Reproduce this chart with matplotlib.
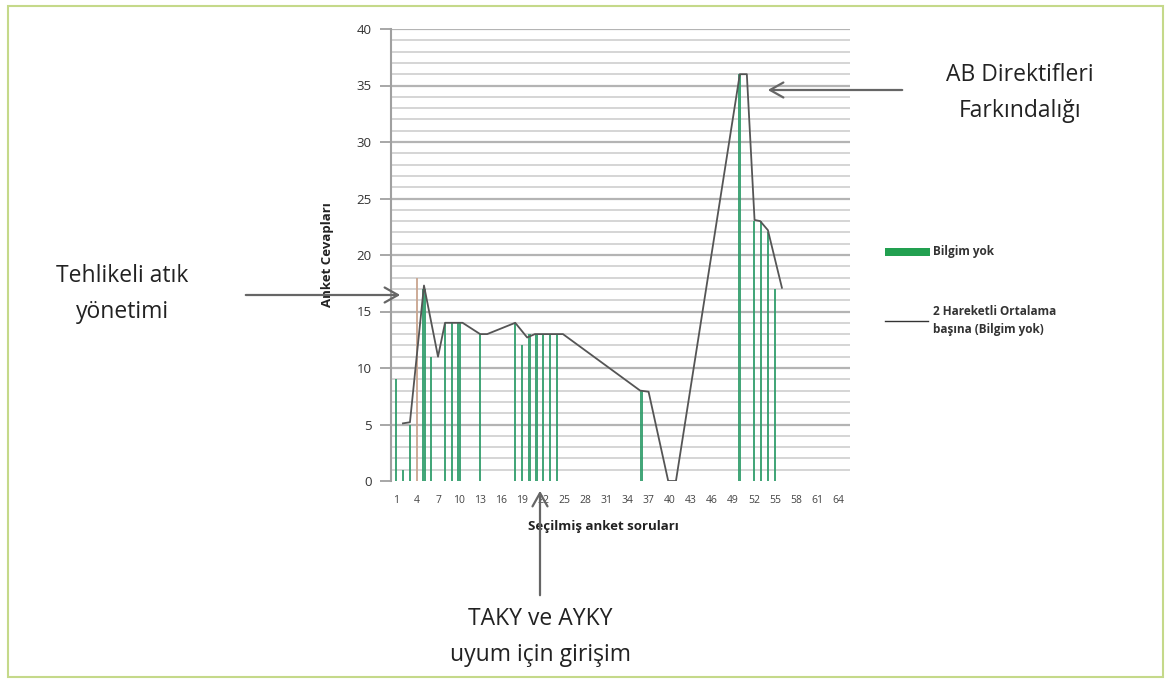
import matplotlib
matplotlib.use("Agg")
import matplotlib.pyplot as plt
from matplotlib.patches import FancyArrowPatch, Rectangle
from matplotlib.lines import Line2D

plt.rcParams['font.family'] = ['Open Sans', 'DejaVu Sans']

# Bars: "Bilgim yok"
bar_x = [1, 2, 3, 4, 5, 6, 8, 9, 10, 13, 18, 19, 20, 21, 22, 23, 24, 36, 50, 52, 53, 54, 55]
bar_y = [9, 1, 5, 18, 17, 11, 14, 14, 14, 13, 14, 12, 13, 13, 13, 13, 13, 8, 36, 23, 23, 22, 17]
bar_w = [0.4, 0.25, 0.25, 0.2, 0.45, 0.35, 0.3, 0.3, 0.45, 0.3, 0.3, 0.3, 0.45, 0.45, 0.3, 0.3, 0.3, 0.35, 0.45, 0.3, 0.3, 0.3, 0.35]
bar_colors = ['#2f9d6b'] * len(bar_x)
bar_colors[3] = '#c9a48e'

# 2-period moving average line
ma_x = [2, 3, 5, 7, 8, 10.5, 13, 14, 18, 19.7, 20.8, 24.8, 35.8, 37, 39.8, 40.9, 50, 51, 52.1, 52.9, 54, 56]
ma_y = [5.1, 5.2, 17.3, 11, 14, 14, 13, 13, 14, 12.7, 13, 13, 8, 7.9, 0, 0, 36, 36, 23.1, 23, 22.2, 17.1]

xticks = list(range(1, 65, 3))
yticks = list(range(0, 41, 5))

legend_labels = ['Bilgim yok', '2 Hareketli Ortalama\nbaşına (Bilgim yok)']

W, H = 1171, 683
fig = plt.figure(figsize=(W / 100, H / 100), dpi=100)
fig.patch.set_facecolor('white')

def fx(px):
    return px / W

def fy(py):
    return 1 - py / H

ax = fig.add_axes([fx(391), fy(481), fx(850) - fx(391), fy(29) - fy(481)])
ax.set_xlim(0.3, 65.7)
ax.set_ylim(0, 40)

# gridlines
for v in range(1, 41):
    major = (v % 5 == 0)
    ax.axhline(v, color='#b4b4b4' if major else '#d2d2d2', lw=1.6 if major else 1.3, zorder=0)

for x, y, w, c in zip(bar_x, bar_y, bar_w, bar_colors):
    ax.bar(x, y, width=w, color=c, zorder=2, alpha=0.9)

ax.plot(ma_x, ma_y, color='#555555', lw=1.3, zorder=3)

for s in ['top', 'right', 'bottom']:
    ax.spines[s].set_visible(False)
ax.spines['left'].set_color('#a0a0a0')
ax.spines['left'].set_linewidth(1.5)

ax.set_yticks(yticks)
ax.set_yticklabels([str(t) for t in yticks], fontsize=9.5, color='#333333')
ax.set_xticks(xticks)
ax.set_xticklabels([str(t) for t in xticks], fontsize=7.5, color='#444444')
ax.tick_params(axis='y', length=8, width=1.3, color='#a0a0a0', pad=6)
ax.tick_params(axis='x', length=0, pad=10)

ax.set_ylabel('Anket Cevapları', fontsize=9.5, fontweight='bold', color='#222222')
ax.yaxis.set_label_coords(-0.125, 0.5)
ax.set_xlabel('Seçilmiş anket soruları', fontsize=9.5, fontweight='bold', color='#222222')
ax.xaxis.set_label_coords(0.462, -0.086)

# legend (drawn manually to match positions)
fig.add_artist(Rectangle((fx(885), fy(256)), fx(930) - fx(885), fy(248) - fy(256),
                         transform=fig.transFigure, facecolor='#22a050', edgecolor='none'))
fig.text(fx(933), fy(252), legend_labels[0], fontsize=8.5, fontweight='bold',
         color='#333333', ha='left', va='center')
fig.add_artist(Line2D([fx(885), fx(928)], [fy(321), fy(321)], transform=fig.transFigure,
                      color='#333333', lw=1))
fig.text(fx(933), fy(321), legend_labels[1], fontsize=8.5, fontweight='bold',
         color='#333333', ha='left', va='center', linespacing=1.5)

# annotations
ann_kw = dict(fontsize=16.5, color='#222222', ha='center', va='center', linespacing=1.7)
fig.text(fx(1020), fy(93), 'AB Direktifleri\nFarkındalığı', **ann_kw)
fig.text(fx(122), fy(294), 'Tehlikeli atık\nyönetimi', **ann_kw)
fig.text(fx(540), fy(637), 'TAKY ve AYKY\nuyum için girişim', **ann_kw)

def arrow(x0, y0, x1, y1):
    a = FancyArrowPatch((fx(x0), fy(y0)), (fx(x1), fy(y1)), transform=fig.transFigure,
                        arrowstyle='->,head_length=0.8,head_width=0.45', color='#666666',
                        lw=1.6, mutation_scale=12)
    fig.add_artist(a)

arrow(905, 90, 765, 90)
arrow(243, 295, 403, 295)
arrow(540, 598, 540, 488)

# outer border
fig.add_artist(Rectangle((fx(8), fy(677)), fx(1163) - fx(8), fy(6) - fy(677),
                         transform=fig.transFigure, fill=False, edgecolor='#c5d98a', lw=1.5))

fig.savefig('out.png', dpi=100)
